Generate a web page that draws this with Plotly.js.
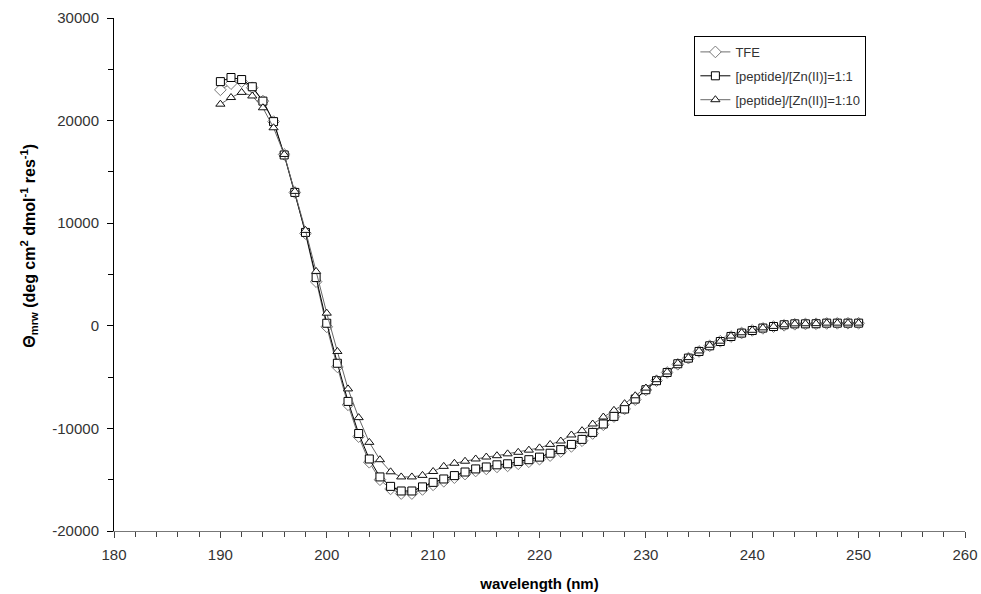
<!DOCTYPE html>
<html>
<head>
<meta charset="utf-8">
<script src="https://cdn.plot.ly/plotly-3.0.1.min.js"></script>
<style>
html,body{margin:0;padding:0;background:#fff;}
#chart{width:981px;height:594px;}
</style>
</head>
<body>
<div id="chart"></div>
<script>
var wavelength = [190,191,192,193,194,195,196,197,198,199,200,201,202,203,204,205,206,207,208,209,210,211,212,213,214,215,216,217,218,219,220,221,222,223,224,225,226,227,228,229,230,231,232,233,234,235,236,237,238,239,240,241,242,243,244,245,246,247,248,249,250];

var tfe = [23000,23600,23800,23200,21900,19900,16700,13000,9000,4300,-100,-4000,-7700,-10800,-13300,-15000,-15900,-16350,-16350,-15950,-15500,-15150,-14800,-14450,-14150,-13950,-13750,-13650,-13450,-13250,-13000,-12650,-12250,-11750,-11200,-10500,-9650,-8850,-8100,-7200,-6250,-5350,-4550,-3750,-3150,-2500,-1950,-1500,-1050,-700,-450,-250,-80,50,150,180,200,230,240,250,250];

var zn11 = [23800,24200,24000,23300,21900,19900,16650,13000,9100,4700,250,-3650,-7370,-10500,-12980,-14730,-15650,-16100,-16100,-15700,-15260,-14930,-14600,-14250,-13950,-13760,-13550,-13450,-13220,-13050,-12800,-12420,-12070,-11560,-11070,-10390,-9570,-8830,-8110,-7140,-6230,-5350,-4550,-3700,-3150,-2500,-1950,-1530,-1040,-710,-460,-220,-70,100,190,190,200,260,260,260,260];

var zn110 = [21600,22250,22750,22400,21250,19300,16700,13100,9300,5300,1230,-2500,-6150,-8950,-11360,-13050,-14230,-14730,-14730,-14580,-14200,-13700,-13400,-13200,-12980,-12790,-12660,-12480,-12330,-12120,-11900,-11560,-11230,-10640,-10220,-9570,-8890,-8240,-7590,-6820,-6070,-5250,-4500,-3650,-3100,-2450,-1900,-1500,-1000,-680,-440,-200,-60,100,190,200,210,260,260,260,260];

var seriesNames = ['TFE','[peptide]/[Zn(II)]=1:1','[peptide]/[Zn(II)]=1:10'];
var xTicks = [180,190,200,210,220,230,240,250,260];
var yTickVals = [-20000,-10000,0,10000,20000,30000];
var yTickText = ['-20000','-10000','0','10000','20000','30000'];
var xTitle = 'wavelength (nm)';
var yTitle = 'Θ<sub>mrw</sub> (deg cm<sup>2</sup> dmol<sup>-1</sup> res<sup>-1</sup>)';

var font = 'Arial, "Liberation Sans", sans-serif';

var traces = [
  {x: wavelength, y: tfe, name: seriesNames[0], type: 'scatter', mode: 'lines+markers',
   line: {color: '#6e6e6e', width: 1},
   marker: {symbol: 'diamond', size: 9, color: '#ffffff', line: {color: '#7a7a7a', width: 1}},
   legendgroup: 'a'},
  {x: wavelength, y: zn11, name: seriesNames[1], type: 'scatter', mode: 'lines+markers',
   line: {color: '#000000', width: 1},
   marker: {symbol: 'square', size: 8, color: '#ffffff', line: {color: '#000000', width: 1}},
   legendgroup: 'b'},
  {x: wavelength, y: zn110, name: seriesNames[2], type: 'scatter', mode: 'lines+markers',
   line: {color: '#666666', width: 1},
   marker: {symbol: 'triangle-up', size: 8, color: '#ffffff', line: {color: '#111111', width: 1}},
   legendgroup: 'c'}
];

var layout = {
  width: 981, height: 594,
  margin: {l: 114, r: 16, t: 18, b: 63},
  paper_bgcolor: '#ffffff', plot_bgcolor: '#ffffff',
  font: {family: font, size: 12, color: '#333333'},
  showlegend: true,
  legend: {
    x: 0.682, y: 0.965, xanchor: 'left', yanchor: 'top',
    bgcolor: '#ffffff', bordercolor: '#000000', borderwidth: 1,
    font: {family: font, size: 13, color: '#333333'},
    traceorder: 'grouped', tracegroupgap: 4, itemwidth: 30
  },
  xaxis: {
    range: [180, 260], tickvals: xTicks, ticks: 'outside', ticklen: 6, tickcolor: '#444',
    ticklabelstandoff: 4,
    showgrid: false, zeroline: false, showline: true, linecolor: '#777777', linewidth: 1,
    tickfont: {family: font, size: 15, color: '#333333'},
    minor: {dtick: 2, ticks: 'outside', ticklen: 5, tickcolor: '#444', showgrid: false},
    title: {text: '<b>' + xTitle + '</b>', font: {family: font, size: 15, color: '#000000'}, standoff: 16}
  },
  yaxis: {
    range: [-20000, 30000], tickvals: yTickVals, ticktext: yTickText, ticks: 'outside', ticklen: 6, tickcolor: '#000',
    ticklabelstandoff: 5,
    showgrid: false, zeroline: false, showline: true, linecolor: '#000000', linewidth: 1,
    tickfont: {family: font, size: 15, color: '#333333'},
    minor: {dtick: 5000, tick0: 0, ticks: 'outside', ticklen: 5, tickcolor: '#000', showgrid: false}
  },
  annotations: [{
    text: '<b>' + yTitle + '</b>', textangle: -90, showarrow: false,
    xref: 'paper', yref: 'paper', x: 0, y: 0.556, xanchor: 'center', yanchor: 'middle',
    xshift: -85, font: {family: font, size: 16, color: '#000000'}
  }]
};

Plotly.newPlot('chart', traces, layout, {displayModeBar: false, staticPlot: true});
</script>
</body>
</html>
